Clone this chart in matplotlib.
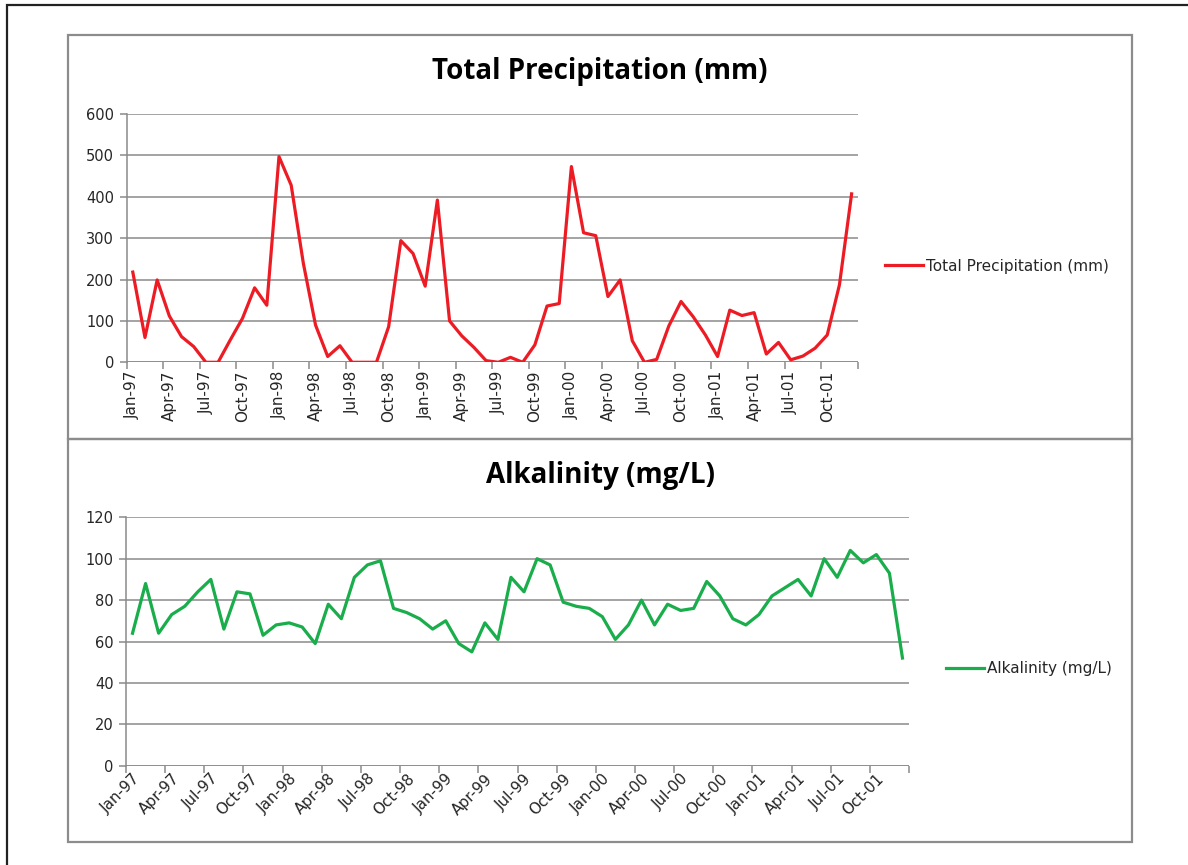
import matplotlib
matplotlib.use('Agg')
import matplotlib.pyplot as plt
from matplotlib.lines import Line2D
from matplotlib.patches import Rectangle
import numpy as np

# Monthly series, Jan-1997 .. Dec-2001 (60 months)
years = ['97', '98', '99', '00', '01']
month_names = ['Jan', 'Feb', 'Mar', 'Apr', 'May', 'Jun',
               'Jul', 'Aug', 'Sep', 'Oct', 'Nov', 'Dec']
months = ['{}-{}'.format(m, y) for y in years for m in month_names]

precip = [218, 60, 199, 112, 62, 38, 0, 0, 54, 106, 180, 138,
          497, 428, 239, 90, 14, 40, 0, 0, 0, 86, 294, 263,
          184, 392, 100, 64, 36, 4, 0, 12, 0, 42, 136, 142,
          473, 313, 306, 159, 199, 52, 0, 7, 88, 147, 110, 66,
          14, 126, 113, 120, 20, 48, 6, 15, 34, 66, 187, 407]

alkalinity = [64, 88, 64, 73, 77, 84, 90, 66, 84, 83, 63, 68,
              69, 67, 59, 78, 71, 91, 97, 99, 76, 74, 71, 66,
              70, 59, 55, 69, 61, 91, 84, 100, 97, 79, 77, 76,
              72, 61, 68, 80, 68, 78, 75, 76, 89, 82, 71, 68,
              73, 82, 86, 90, 82, 100, 91, 104, 98, 102, 93, 52]

RED = '#ed1c24'
GREEN = '#1aad4b'
GRID = '#8a8a8a'
TEXT = '#262626'
FS = 11
TITLE_FS = 20

W, H = 1188, 865
fig = plt.figure(figsize=(W / 100, H / 100), dpi=100)


def px(x0, y0, x1, y1):
    # pixel box -> figure fraction [left, bottom, width, height]
    return [x0 / W, 1 - y1 / H, (x1 - x0) / W, (y1 - y0) / H]


def style_axes(ax, ymax, ystep):
    x = np.arange(len(months))
    ax.set_xlim(-0.5, len(months) - 0.5)
    ax.set_ylim(0, ymax)
    ax.set_yticks(np.arange(0, ymax + 1, ystep))
    ax.yaxis.grid(True, color=GRID, linewidth=1.1)
    ax.set_axisbelow(True)
    for s in ['top', 'right', 'bottom']:
        ax.spines[s].set_visible(False)
    ax.spines['left'].set_color(GRID)
    ax.spines['left'].set_linewidth(1.1)
    ax.axhline(0, color=GRID, linewidth=1.1, zorder=1)
    # tick marks between categories, labels on category centres
    ax.set_xticks(np.arange(-0.5, len(months), 3))
    ax.set_xticklabels([])
    ax.set_xticks(x[::3], minor=True)
    ax.tick_params(axis='x', which='major', length=5, width=1.1, color=GRID)
    ax.tick_params(axis='x', which='minor', length=0, pad=6)
    ax.tick_params(axis='y', length=5, width=1.1, color=GRID,
                   labelsize=10.5, labelcolor=TEXT, pad=4)
    return x


# chart frames
outer = Rectangle((7 / W, -0.1), 1.2, 1 - 5 / H + 0.1, transform=fig.transFigure,
                  fill=False, edgecolor='#222222', linewidth=1.6)
fig.patches.append(outer)
for (y0, y1) in [(35, 439), (439, 842)]:
    r = Rectangle((68 / W, 1 - y1 / H), (1132 - 68) / W, (y1 - y0) / H,
                  transform=fig.transFigure, fill=False,
                  edgecolor='#8c8c8c', linewidth=1.6)
    fig.patches.append(r)

# Total precipitation
ax1 = fig.add_axes(px(126.7, 114, 857.7, 362.3))
x = style_axes(ax1, 600, 100)
ax1.plot(x, precip, color=RED, linewidth=2.3, solid_joinstyle='round',
         label='Total Precipitation (mm)', zorder=3)
ax1.set_xticklabels(months[::3], minor=True, rotation=90, fontsize=FS,
                    color=TEXT, va='top', ha='center')
fig.text(600 / W, 1 - 72 / H, 'Total Precipitation (mm)', fontsize=TITLE_FS,
         fontweight='bold', family='Open Sans', ha='center', va='center', color='black')
fig.legend(handles=[Line2D([], [], color=RED, linewidth=2.3)],
           labels=['Total Precipitation (mm)'], loc='center left',
           bbox_to_anchor=(885 / W, 1 - 266 / H), frameon=False,
           handlelength=2.5, handletextpad=0.2, borderpad=0, borderaxespad=0,
           prop={'size': FS}, labelcolor=TEXT)

# Alkalinity
ax2 = fig.add_axes(px(126, 517.3, 909, 765.7))
x = style_axes(ax2, 120, 20)
ax2.plot(x, alkalinity, color=GREEN, linewidth=2.3, solid_joinstyle='round',
         label='Alkalinity (mg/L)', zorder=3)
ax2.set_xticklabels(months[::3], minor=True, rotation=45, fontsize=FS,
                    color=TEXT, va='top', ha='right', rotation_mode='anchor')
ax2.tick_params(axis='x', which='minor', pad=4)
fig.text(600 / W, 1 - 476 / H, 'Alkalinity (mg/L)', fontsize=TITLE_FS,
         fontweight='bold', family='Open Sans', ha='center', va='center', color='black')
fig.legend(handles=[Line2D([], [], color=GREEN, linewidth=2.3)],
           labels=['Alkalinity (mg/L)'], loc='center left',
           bbox_to_anchor=(946 / W, 1 - 669 / H), frameon=False,
           handlelength=2.5, handletextpad=0.2, borderpad=0, borderaxespad=0,
           prop={'size': FS}, labelcolor=TEXT)

plt.savefig('out.png', dpi=100)
